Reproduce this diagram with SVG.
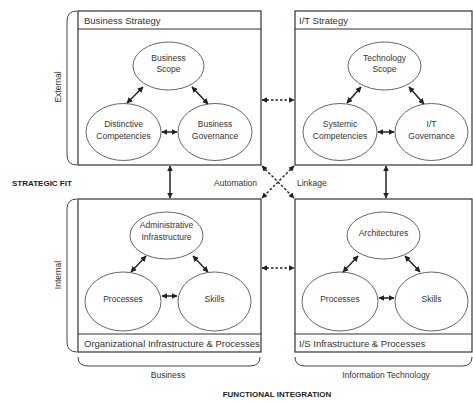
<svg xmlns="http://www.w3.org/2000/svg" width="473" height="401" viewBox="0 0 473 401">
<defs>
<marker id="ah" viewBox="0 0 10 10" refX="9" refY="5" markerWidth="4" markerHeight="4" orient="auto-start-reverse" markerUnits="strokeWidth">
<path d="M0,0 L10,5 L0,10 z" fill="#222"/>
</marker>
<marker id="ahd" viewBox="0 0 10 10" refX="9" refY="5" markerWidth="4" markerHeight="4" orient="auto-start-reverse" markerUnits="strokeWidth">
<path d="M0,0 L10,5 L0,10 z" fill="#222"/>
</marker>
</defs>
<style>
text{font-family:"Liberation Sans",Arial,sans-serif;fill:#333}
.hd{font-size:9.5px}
.el{font-size:8.5px;text-anchor:middle}
.lb{font-size:8.5px}
.bold{font-weight:bold;font-size:8px;fill:#222}
.box{fill:#fff;stroke:#333;stroke-width:1.2}
.sep{stroke:#333;stroke-width:1}
.ell{fill:#fff;stroke:#555;stroke-width:0.9}
.arr{stroke:#222;stroke-width:1.5;fill:none;marker-start:url(#ah);marker-end:url(#ah)}
.dot{stroke:#222;stroke-width:1.4;fill:none;stroke-dasharray:2.5 2;marker-start:url(#ahd);marker-end:url(#ahd)}
.brace{fill:none;stroke:#444;stroke-width:1}
</style>
<rect width="473" height="401" fill="#fff"/>

<g id="braces">
<path class="brace" d="M77,11 Q67,11 67,21 L67,155 Q67,165 77,165"/>
<path class="brace" d="M77,199 Q67,199 67,209 L67,342 Q67,352 77,352"/>
<path class="brace" d="M78,357 Q78,366 88,366 L250,366 Q260,366 260,357"/>
<path class="brace" d="M295,357 Q295,366 305,366 L462,366 Q472,366 472,357"/>
</g>

<g id="business-strategy">
<rect class="box" x="78" y="11" width="183" height="154"/>
<line class="sep" x1="78" y1="29" x2="261" y2="29"/>
<text class="hd" x="84" y="23.5">Business Strategy</text>
</g>
<g id="it-strategy">
<rect class="box" x="295" y="11" width="177" height="154"/>
<line class="sep" x1="295" y1="29" x2="472" y2="29"/>
<text class="hd" x="299" y="23.5">I/T Strategy</text>
</g>
<g id="org-infra">
<rect class="box" x="78" y="199" width="183" height="153"/>
<line class="sep" x1="78" y1="334" x2="261" y2="334"/>
<text class="hd" x="84" y="346.5">Organizational Infrastructure &amp; Processes</text>
</g>
<g id="is-infra">
<rect class="box" x="295" y="199" width="177" height="153"/>
<line class="sep" x1="295" y1="334" x2="472" y2="334"/>
<text class="hd" x="299" y="346.5">I/S Infrastructure &amp; Processes</text>
</g>

<g id="business-scope"><ellipse class="ell" cx="168.5" cy="66" rx="35.5" ry="24"/><text class="el" x="168.5" y="61">Business</text><text class="el" x="168.5" y="72">Scope</text></g>
<g id="distinctive-competencies"><ellipse class="ell" cx="123.5" cy="132" rx="37.5" ry="28.5"/><text class="el" x="123.5" y="127">Distinctive</text><text class="el" x="123.5" y="139">Competencies</text></g>
<g id="business-governance"><ellipse class="ell" cx="215" cy="132" rx="37" ry="28.5"/><text class="el" x="215" y="127">Business</text><text class="el" x="215" y="139">Governance</text></g>

<g id="technology-scope"><ellipse class="ell" cx="384.5" cy="66" rx="36.5" ry="24"/><text class="el" x="384.5" y="61">Technology</text><text class="el" x="384.5" y="72">Scope</text></g>
<g id="systemic-competencies"><ellipse class="ell" cx="340" cy="132" rx="37" ry="28.5"/><text class="el" x="340" y="127">Systemic</text><text class="el" x="340" y="139">Competencies</text></g>
<g id="it-governance"><ellipse class="ell" cx="431.5" cy="132" rx="36.5" ry="28.5"/><text class="el" x="431.5" y="127">I/T</text><text class="el" x="431.5" y="139">Governance</text></g>

<g id="administrative-infrastructure"><ellipse class="ell" cx="166.5" cy="235.5" rx="36.5" ry="23.5"/><text class="el" x="166.5" y="228">Administrative</text><text class="el" x="166.5" y="240">Infrastructure</text></g>
<g id="processes-business"><ellipse class="ell" cx="123" cy="301.5" rx="38" ry="29.5"/><text class="el" x="123" y="302">Processes</text></g>
<g id="skills-business"><ellipse class="ell" cx="214.5" cy="301.5" rx="36.5" ry="29.5"/><text class="el" x="214.5" y="302">Skills</text></g>

<g id="architectures"><ellipse class="ell" cx="383.5" cy="235.5" rx="36.5" ry="23.5"/><text class="el" x="383.5" y="236">Architectures</text></g>
<g id="processes-it"><ellipse class="ell" cx="340" cy="301.5" rx="38" ry="29.5"/><text class="el" x="340" y="302">Processes</text></g>
<g id="skills-it"><ellipse class="ell" cx="431.5" cy="301.5" rx="36.5" ry="29.5"/><text class="el" x="431.5" y="302">Skills</text></g>

<g id="connectors">
<line class="arr" x1="143" y1="87" x2="127" y2="103"/>
<line class="arr" x1="192" y1="87" x2="208" y2="104"/>
<line class="arr" x1="162" y1="132" x2="177" y2="132"/>
<line class="arr" x1="361" y1="87" x2="347" y2="103"/>
<line class="arr" x1="409" y1="87" x2="424" y2="104"/>
<line class="arr" x1="378" y1="132" x2="394" y2="132"/>
<line class="arr" x1="146" y1="256" x2="131" y2="272"/>
<line class="arr" x1="193" y1="256" x2="208" y2="272"/>
<line class="arr" x1="162" y1="296" x2="177" y2="296"/>
<line class="arr" x1="358" y1="256" x2="343" y2="272"/>
<line class="arr" x1="405" y1="256" x2="420" y2="272"/>
<line class="arr" x1="379" y1="298" x2="394" y2="298"/>
<line class="arr" x1="170" y1="166" x2="170" y2="198"/>
<line class="arr" x1="386" y1="166" x2="386" y2="198"/>
<line class="dot" x1="262" y1="100" x2="294" y2="100"/>
<line class="dot" x1="262" y1="268" x2="294" y2="268"/>
<line class="dot" x1="262" y1="166" x2="294" y2="198"/>
<line class="dot" x1="294" y1="166" x2="262" y2="198"/>
</g>

<g id="labels">
<text class="lb" x="257" y="186" text-anchor="end">Automation</text>
<text class="lb" x="297" y="186">Linkage</text>
<text class="bold" x="12" y="186">STRATEGIC FIT</text>
<text class="lb" transform="translate(61,87) rotate(-90)" text-anchor="middle">External</text>
<text class="lb" transform="translate(61,275) rotate(-90)" text-anchor="middle">Internal</text>
<text class="lb" x="168" y="378" text-anchor="middle">Business</text>
<text class="lb" x="386" y="378" text-anchor="middle">Information Technology</text>
<text class="bold" x="277" y="397" text-anchor="middle">FUNCTIONAL INTEGRATION</text>
</g>
</svg>
